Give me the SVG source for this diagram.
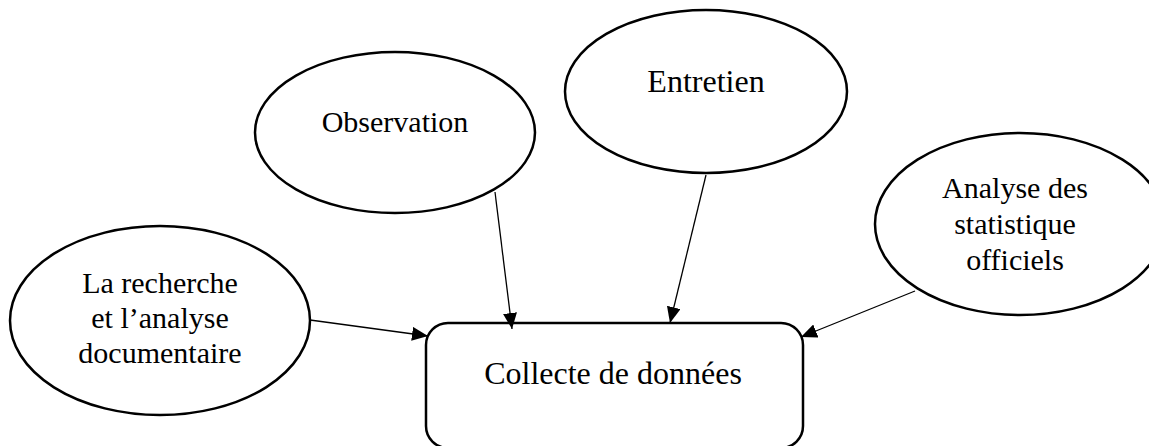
<svg xmlns="http://www.w3.org/2000/svg" width="1149" height="446" viewBox="0 0 1149 446">
<style>
.shape{fill:#fff;stroke:#000;stroke-width:2.5}
.lbl{font-family:"Liberation Serif","Times New Roman",serif;font-size:30px;fill:#000;text-anchor:middle}
.conn{stroke:#000;stroke-width:1.3;fill:none}
</style>
<defs>
<marker id="arr" viewBox="0 0 16 14" refX="16" refY="7" markerWidth="16" markerHeight="14" markerUnits="userSpaceOnUse" orient="auto">
<path d="M0,0 L16,7 L0,14 Z" fill="#000"/>
</marker>
</defs>
<rect width="1149" height="446" fill="#fff"/>
<g id="node-collecte">
<rect class="shape" x="426" y="323" width="377" height="125" rx="22" ry="22"/>
<text class="lbl" x="613" y="384" style="font-size:32px">Collecte de données</text>
</g>
<g id="node-observation">
<ellipse class="shape" cx="395" cy="132.5" rx="140" ry="80.5"/>
<text class="lbl" x="395" y="132">Observation</text>
</g>
<g id="node-entretien">
<ellipse class="shape" cx="706" cy="91.5" rx="141" ry="81.5"/>
<text class="lbl" x="706" y="92" style="font-size:32px">Entretien</text>
</g>
<g id="node-recherche">
<ellipse class="shape" cx="160" cy="320.5" rx="150" ry="94.5"/>
<text class="lbl" x="160" y="293">La recherche</text>
<text class="lbl" x="160" y="328">et l’analyse</text>
<text class="lbl" x="160" y="363">documentaire</text>
</g>
<g id="node-statistique">
<ellipse class="shape" cx="1020" cy="224" rx="145" ry="91"/>
<text class="lbl" x="1015" y="198">Analyse des</text>
<text class="lbl" x="1015" y="234">statistique</text>
<text class="lbl" x="1015" y="270">officiels</text>
</g>
<g id="connectors">
<line class="conn" x1="310" y1="320" x2="428" y2="336" marker-end="url(#arr)"/>
<line class="conn" x1="495" y1="192" x2="512" y2="329" marker-end="url(#arr)"/>
<line class="conn" x1="706" y1="175" x2="670" y2="323" marker-end="url(#arr)"/>
<line class="conn" x1="915" y1="291" x2="801" y2="337" marker-end="url(#arr)"/>
</g>
</svg>
